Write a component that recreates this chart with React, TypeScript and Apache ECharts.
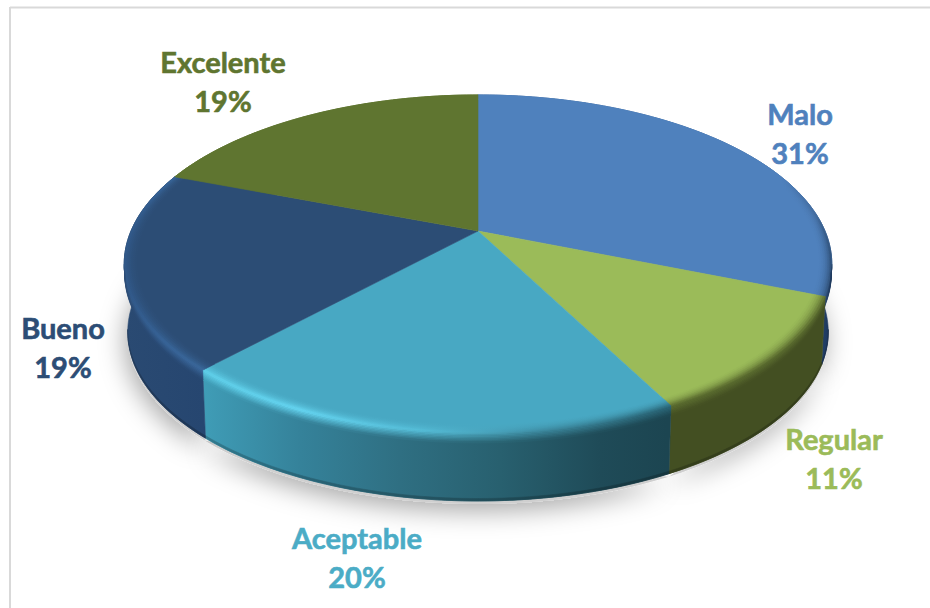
import React, { useEffect, useRef } from "react";
import * as echarts from "echarts";

const CATEGORIES = ["Malo", "Regular", "Aceptable", "Bueno", "Excelente"];
const VALUES = [31.1, 11.3, 19.5, 18.9, 19.2];

const TOP_COLORS = ["#4f81bd", "#9bbb59", "#48a8c3", "#2c4d75", "#5f7530"];
const LABEL_COLORS = ["#4f81bd", "#9bbb59", "#4bacc6", "#2c4d75", "#5f7530"];
const LABEL_POS: [number, number][] = [[800, 133], [834, 458], [357, 557], [63, 347], [223, 81]];

type Stop = [number, string];
const SIDE_STOPS: Stop[][] = [
  [[478, "#24487a"], [800, "#24487a"], [822, "#213f69"], [833, "#1c3658"]],
  [[667, "#434f22"], [822, "#434f22"]],
  [[205, "#3f9cb6"], [300, "#35829a"], [400, "#2f6f82"], [500, "#28606f"], [600, "#1f4b58"], [667, "#1c4551"]],
  [[123, "#2a4a72"], [205, "#264670"]],
  [[178, "#5f7530"], [478, "#5f7530"]],
];
const RIM_STOPS: Stop[][] = [
  [[478, "#4f81bd"], [780, "#4f81bd"], [815, "#41699a"], [833, "#2b4a70"]],
  [[667, "#5d6f30"], [822, "#5d6f30"]],
  [[205, "#60d2ec"], [300, "#66d8f4"], [420, "#56bfd9"], [540, "#3f8fa6"], [667, "#2b6a7c"]],
  [[123, "#31598a"], [165, "#38659a"], [205, "#3b6a9e"]],
  [[178, "#5f7530"], [478, "#5f7530"]],
];

const FONT_FAMILY = "Lato";
const cx = 478, cy = 231, a = 347, b = 162.6, k = 0.195, depth = 68, shrink = 0.99;
const RIM_R = 0.96, FADE_DY = 10, STRIPS = 7, EDGE_DY = 2.5;
const FRONT0 = Math.acos(-k), FRONT1 = 2 * Math.PI - FRONT0;

const total = VALUES.reduce((s, v) => s + v, 0);
const angles = (i: number): [number, number] => {
  const before = VALUES.slice(0, i).reduce((s, v) => s + v, 0);
  return [(before / total) * 2 * Math.PI, ((before + VALUES[i]) / total) * 2 * Math.PI];
};
const pt = (t: number, r = 1, dy = 0): [number, number] => {
  const u = r * Math.sin(t), v = -r * Math.cos(t);
  const s = 1 / (1 - k * v);
  const f = 1 - (1 - shrink) * (dy / depth);
  return [cx + a * u * s * f, cy + b * v * s + dy];
};
const arc = (t0: number, t1: number, r = 1, dy = 0) => {
  const n = Math.max(2, Math.ceil(Math.abs(t1 - t0) / 0.02));
  const out: [number, number][] = [];
  for (let j = 0; j <= n; j++) out.push(pt(t0 + ((t1 - t0) * j) / n, r, dy));
  return out;
};
const hex = (c: string) => [1, 3, 5].map((i) => parseInt(c.slice(i, i + 2), 16));
const mix = (c1: string, c2: string, t: number) => {
  const p = hex(c1), q = hex(c2);
  return "#" + p.map((x, i) => Math.round(x + (q[i] - x) * t).toString(16).padStart(2, "0")).join("");
};
const sample = (st: Stop[], x: number) => {
  if (x <= st[0][0]) return st[0][1];
  for (let i = 1; i < st.length; i++) {
    if (x <= st[i][0]) return mix(st[i - 1][1], st[i][1], (x - st[i - 1][0]) / (st[i][0] - st[i - 1][0]));
  }
  return st[st.length - 1][1];
};
const grad = (st: Stop[]) => {
  const x0 = st[0][0], x1 = st[st.length - 1][0];
  return new echarts.graphic.LinearGradient(
    x0, 0, x1, 0,
    st.map(([x, c]) => ({ offset: (x - x0) / (x1 - x0), color: c })),
    true
  );
};
const poly = (points: [number, number][], fill: any) => ({
  type: "polygon",
  shape: { points },
  style: { fill, stroke: fill, lineWidth: 0.6 },
});

const base = {
  type: "custom" as const,
  coordinateSystem: "none" as const,
  silent: true,
  clip: false,
  data: CATEGORIES.map((name, i) => ({ name, value: VALUES[i] })),
};

const makeOption = () => ({
  animation: false,
  backgroundColor: "#ffffff",
  graphic: [
    { type: "line", shape: { x1: 10, y1: 7.5, x2: 930, y2: 7.5 }, style: { stroke: "#d9d9d9", lineWidth: 2 }, z: 0 },
    { type: "line", shape: { x1: 10, y1: 7, x2: 10, y2: 608 }, style: { stroke: "#d9d9d9", lineWidth: 2 }, z: 0 },
  ],
  series: [
    {
      ...base,
      name: "shadow",
      renderItem: (p: any) => {
        const [t0, t1] = angles(p.dataIndex);
        return {
          type: "polygon",
          shape: { points: [...arc(t0, t1, 1, depth + 3)] },
          style: {
            fill: "#cfcfcf",
            shadowBlur: 26,
            shadowColor: "rgba(0,0,0,0.34)",
            shadowOffsetX: -3,
            shadowOffsetY: 7,
          },
        };
      },
    },
    {
      ...base,
      name: "side",
      renderItem: (p: any) => {
        const i = p.dataIndex;
        const [t0, t1] = angles(i);
        const pts = [...arc(t0, t1, 1, 0), ...arc(t1, t0, 1, depth)];
        return poly(pts, grad(SIDE_STOPS[i]));
      },
    },
    {
      ...base,
      name: "top",
      renderItem: (p: any) => {
        const i = p.dataIndex;
        const [t0, t1] = angles(i);
        return poly([[cx, cy], ...arc(t0, t1, 1, 0)], TOP_COLORS[i]);
      },
    },
    {
      ...base,
      name: "rim",
      renderItem: (p: any) => {
        const i = p.dataIndex;
        const [t0, t1] = angles(i);
        const children: any[] = [];
        const xs = Array.from(new Set([...RIM_STOPS[i].map((s) => s[0]), ...SIDE_STOPS[i].map((s) => s[0])])).sort((m, n) => m - n);
        for (let s = 0; s < STRIPS; s++) {
          const r0 = RIM_R + ((1 - RIM_R) * s) / STRIPS;
          const r1 = RIM_R + ((1 - RIM_R) * (s + 1)) / STRIPS;
          const tt = (s + 0.5) / STRIPS;
          const stops: Stop[] = xs.map((x) => [x, mix(TOP_COLORS[i], sample(RIM_STOPS[i], x), tt * tt)]);
          children.push(poly([...arc(t0, t1, r0), ...arc(t1, t0, r1)], grad(stops)));
        }
        const f0 = Math.max(t0, FRONT0), f1 = Math.min(t1, FRONT1);
        if (f1 > f0) {
          for (let s = 0; s < STRIPS; s++) {
            const d0 = (FADE_DY * s) / STRIPS;
            const d1 = (FADE_DY * (s + 1)) / STRIPS;
            const tt = (s + 0.5) / STRIPS;
            const stops: Stop[] = xs.map((x) => [x, mix(sample(RIM_STOPS[i], x), sample(SIDE_STOPS[i], x), tt)]);
            children.push(poly([...arc(f0, f1, 1, d0), ...arc(f1, f0, 1, d1)], grad(stops)));
          }
          const edge: Stop[] = xs.map((x) => [x, mix(sample(SIDE_STOPS[i], x), "#000000", 0.22)]);
          children.push(poly([...arc(f0, f1, 1, depth - EDGE_DY), ...arc(f1, f0, 1, depth)], grad(edge)));
        }
        return { type: "group", children };
      },
    },
    {
      ...base,
      name: "labels",
      renderItem: (p: any, api: any) => {
        const i = p.dataIndex;
        return {
          type: "text",
          style: {
            text: `${CATEGORIES[i]}\n${Math.round(api.value(0))}%`,
            x: LABEL_POS[i][0],
            y: LABEL_POS[i][1],
            align: "center",
            verticalAlign: "middle",
            fill: LABEL_COLORS[i],
            stroke: LABEL_COLORS[i],
            lineWidth: 0.6,
            font: `bold 29px ${FONT_FAMILY}`,
            lineHeight: 39,
          },
        };
      },
    },
  ],
});

export default function App() {
  const ref = useRef<HTMLDivElement>(null);
  useEffect(() => {
    const chart = echarts.init(ref.current!, undefined, { renderer: "svg" });
    chart.setOption(makeOption() as any);
    return () => chart.dispose();
  }, []);
  return <div ref={ref} style={{ position: "fixed", left: 0, top: 0, width: 930, height: 608 }} />;
}
